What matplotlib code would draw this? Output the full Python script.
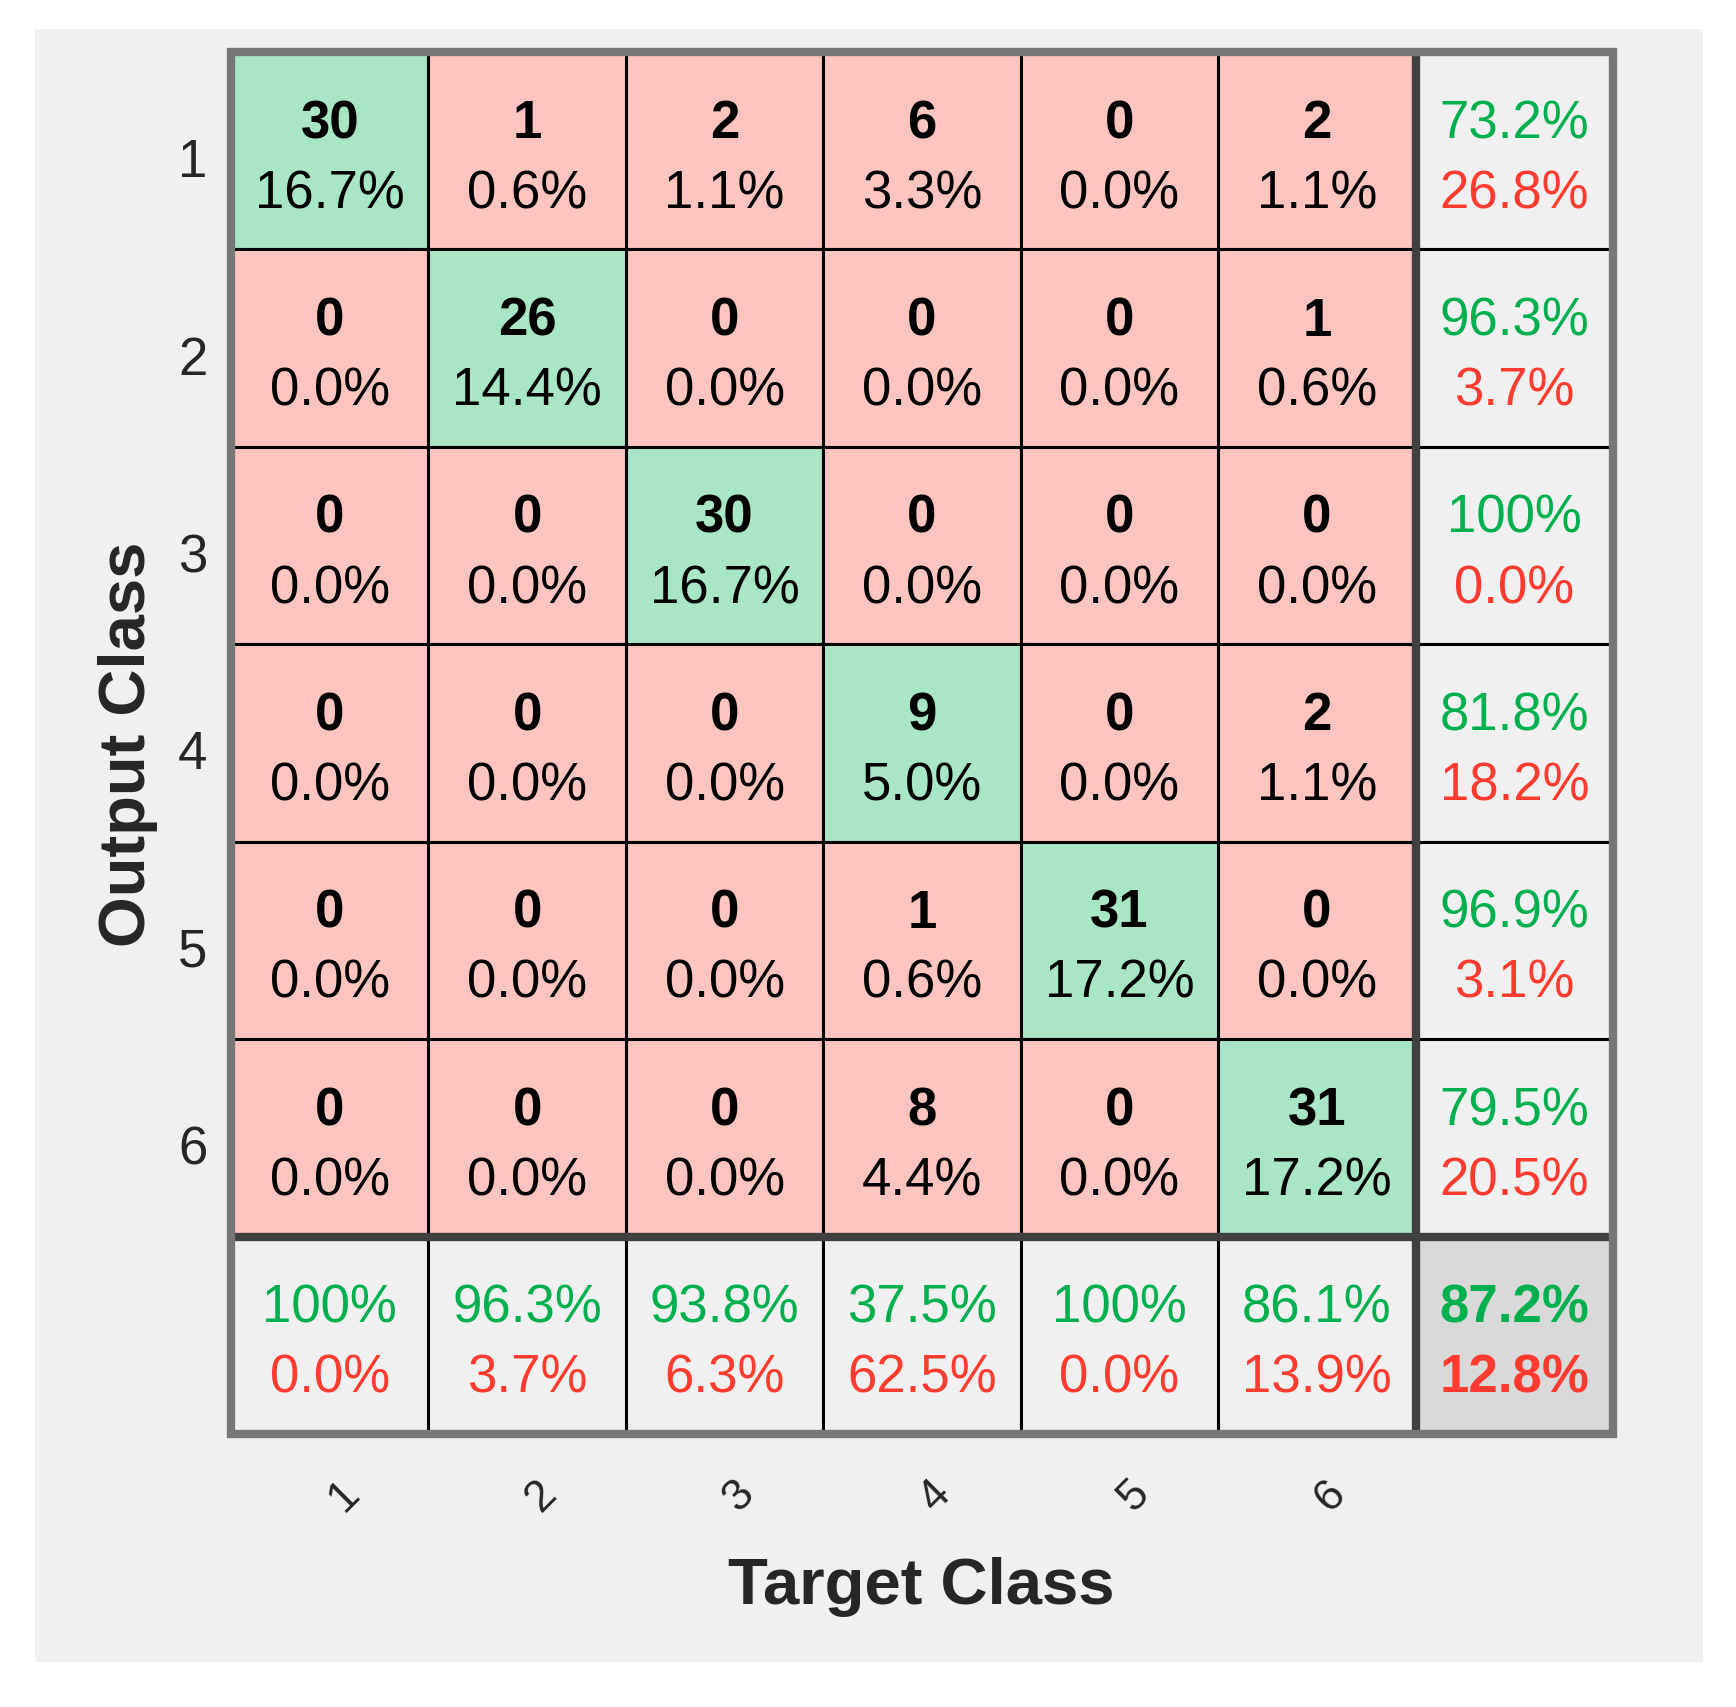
import numpy as np
import matplotlib.pyplot as plt
from matplotlib.patches import Rectangle
import matplotlib.transforms as mtransforms

plt.rcParams['font.family'] = ['Liberation Sans', 'DejaVu Sans']

classes = ['1', '2', '3', '4', '5', '6']

# rows = output class, columns = target class
counts = np.array([
    [30, 1, 2, 6, 0, 2],
    [0, 26, 0, 0, 0, 1],
    [0, 0, 30, 0, 0, 0],
    [0, 0, 0, 9, 0, 2],
    [0, 0, 0, 1, 31, 0],
    [0, 0, 0, 8, 0, 31],
])

row_acc = [73.2, 96.3, 100, 81.8, 96.9, 79.5]
row_err = [26.8, 3.7, 0.0, 18.2, 3.1, 20.5]
col_acc = [100, 96.3, 93.8, 37.5, 100, 86.1]
col_err = [0.0, 3.7, 6.3, 62.5, 0.0, 13.9]
total_acc = 87.2
total_err = 12.8

GREEN_CELL = '#a9e6c5'
RED_CELL = '#fec4bf'
GRAY_CELL = '#f0f0f0'
CORNER_CELL = '#d9d9d9'
GREEN_TXT = '#00b04f'
RED_TXT = '#ff3b2f'
LABEL = '#262626'


def fmt(v):
    if v == 100:
        return '100%'
    return '%.1f%%' % v


W, H = 1736, 1708
fig = plt.figure(figsize=(W / 100, H / 100), dpi=100, facecolor='white')
# gray panel behind the chart
fig.patches.append(Rectangle((35 / W, 1 - 1663 / H), (1703 - 35) / W, (1663 - 30) / H,
                             transform=fig.transFigure, facecolor='#f0f0f0',
                             edgecolor='none', zorder=-1))

ax = fig.add_axes([231 / W, 1 - 1435 / H, 1382 / W, 1382 / H])
ax.set_xlim(0, 7)
ax.set_ylim(7, 0)
ax.set_facecolor(GRAY_CELL)
for s in ax.spines.values():
    s.set_visible(False)

n = len(classes)
total = counts.sum()
fs = 38
y1, y2 = 0.36, 0.715

for i in range(n):
    for j in range(n):
        c = counts[i, j]
        face = GREEN_CELL if i == j else RED_CELL
        ax.add_patch(Rectangle((j, i), 1, 1, facecolor=face, edgecolor='black', lw=2.2))
        ax.text(j + 0.5, i + y1, str(c), ha='center', va='center',
                fontsize=fs, fontweight='bold', color='black')
        ax.text(j + 0.5, i + y2, fmt(c / total * 100), ha='center', va='center',
                fontsize=fs, color='black')

# right column: per output class
for i in range(n):
    ax.add_patch(Rectangle((n, i), 1, 1, facecolor=GRAY_CELL, edgecolor='black', lw=2.2))
    ax.text(n + 0.5, i + y1, fmt(row_acc[i]), ha='center', va='center', fontsize=fs, color=GREEN_TXT)
    ax.text(n + 0.5, i + y2, fmt(row_err[i]), ha='center', va='center', fontsize=fs, color=RED_TXT)

# bottom row: per target class
for j in range(n):
    ax.add_patch(Rectangle((j, n), 1, 1, facecolor=GRAY_CELL, edgecolor='black', lw=2.2))
    ax.text(j + 0.5, n + y1, fmt(col_acc[j]), ha='center', va='center', fontsize=fs, color=GREEN_TXT)
    ax.text(j + 0.5, n + y2, fmt(col_err[j]), ha='center', va='center', fontsize=fs, color=RED_TXT)

ax.add_patch(Rectangle((n, n), 1, 1, facecolor=CORNER_CELL, edgecolor='black', lw=2.2))
ax.text(n + 0.5, n + y1, fmt(total_acc), ha='center', va='center', fontsize=fs,
        fontweight='bold', color=GREEN_TXT)
ax.text(n + 0.5, n + y2, fmt(total_err), ha='center', va='center', fontsize=fs,
        fontweight='bold', color=RED_TXT)

# separators and frame
ax.plot([n, n], [0, n + 1], color='#404040', lw=6, zorder=6, solid_capstyle='butt')
ax.plot([0, n + 1], [n, n], color='#404040', lw=6, zorder=6, solid_capstyle='butt')
ax.add_patch(Rectangle((0, 0), n + 1, n + 1, fill=False, edgecolor='#777777', lw=6,
                       zorder=7, clip_on=False))

# ticks
ax.set_yticks(np.arange(n) + 0.5, classes)
ax.tick_params(axis='y', length=0, pad=17, labelsize=fs, labelcolor=LABEL)
ydown = mtransforms.ScaledTranslation(0, -0.06, fig.dpi_scale_trans)
for lab in ax.get_yticklabels():
    lab.set_transform(lab.get_transform() + ydown)

ax.set_xticks(np.arange(n) + 0.5, classes, rotation=45, rotation_mode='anchor',
              ha='center', va='center')
ax.tick_params(axis='x', length=0, pad=44, labelsize=32, labelcolor=LABEL)
offset = mtransforms.ScaledTranslation(0.14, 0, fig.dpi_scale_trans)
for lab in ax.get_xticklabels():
    lab.set_transform(lab.get_transform() + offset)

fig.text(921 / W, 1 - 1587 / H, 'Target Class', ha='center', va='center',
         fontsize=47, fontweight='bold', color=LABEL)
fig.text(128 / W, 1 - 744 / H, 'Output Class', ha='center', va='center', rotation=90,
         fontsize=47, fontweight='bold', color=LABEL)

fig.savefig('out.png', dpi=100, facecolor='white')
